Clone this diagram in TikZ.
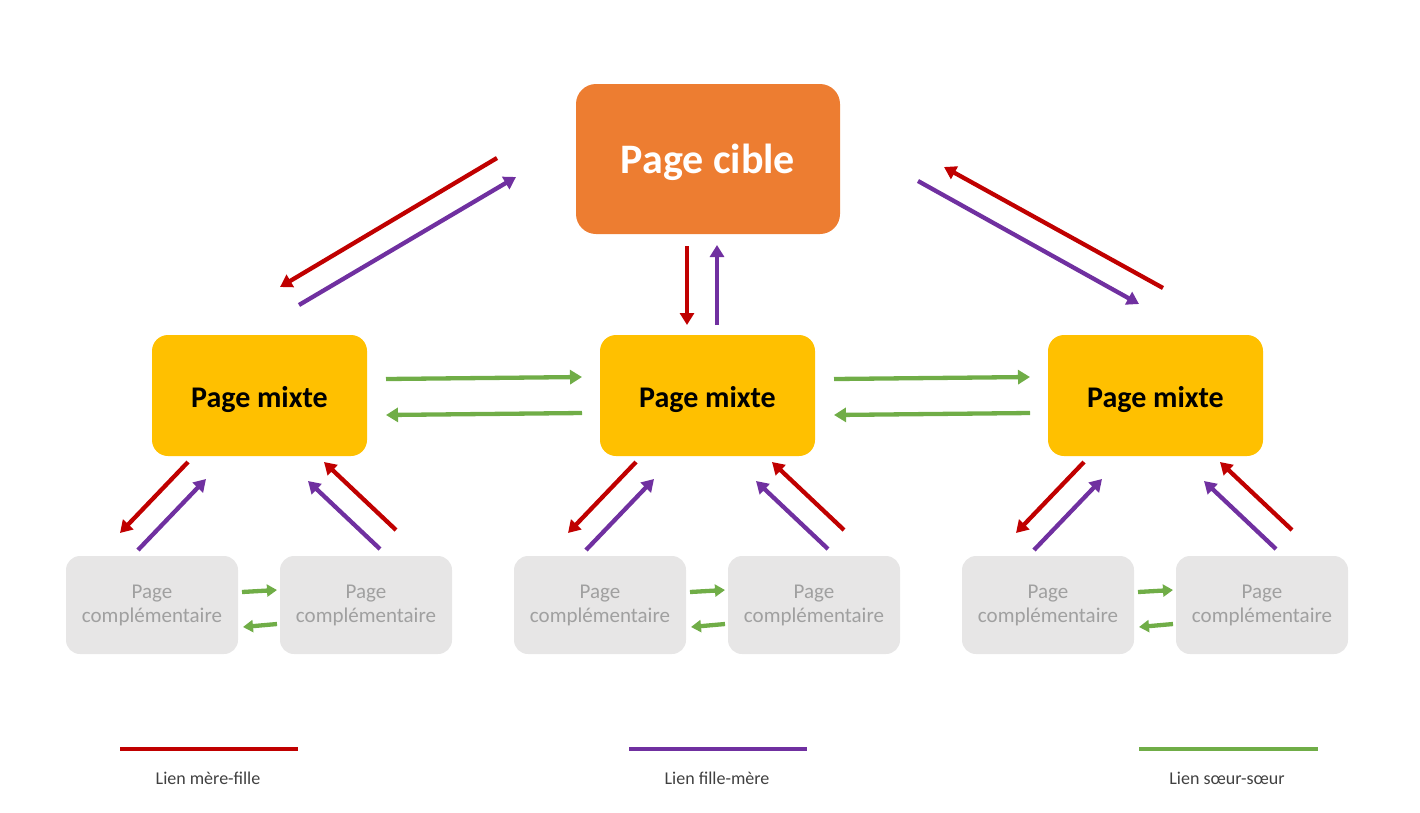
\documentclass[tikz,border=0pt]{standalone}
\usepackage{fontspec}
\setmainfont{Carlito}
\usetikzlibrary{arrows.meta}
\definecolor{corange}{HTML}{ED7D31}
\definecolor{cyellow}{HTML}{FFC000}
\definecolor{cgray}{HTML}{E7E6E6}
\definecolor{ctext}{HTML}{A0A0A0}
\definecolor{cred}{HTML}{C00000}
\definecolor{cpurple}{HTML}{7030A0}
\definecolor{cgreen}{HTML}{70AD47}
\definecolor{clegend}{HTML}{404040}
\tikzset{
  cible/.style={fill=corange, rounded corners=20pt, minimum width=264pt, minimum height=150pt, text=white, font=\fontsize{42}{48}\selectfont\bfseries, inner sep=0pt, text height=30pt, text depth=1.5pt},
  mixte/.style={fill=cyellow, rounded corners=16pt, minimum width=215pt, minimum height=121pt, text=black, font=\fontsize{30}{36}\selectfont\bfseries, inner sep=0pt, text height=24pt, text depth=1pt},
  compl/.style={fill=cgray, rounded corners=14pt, minimum width=172pt, minimum height=98pt, text=ctext, font=\fontsize{21}{24}\selectfont, align=center, inner sep=0pt},
  lnk/.style={line width=4.3pt, -{Triangle[length=12pt,width=14pt]}},
  mf/.style={lnk, cred},
  fm/.style={lnk, cpurple},
  ss/.style={lnk, cgreen},
  smallss/.style={line width=4.3pt, cgreen, -{Triangle[length=10pt,width=12pt]}},
  legline/.style={line width=4.3pt},
  legtext/.style={text=clegend, font=\fontsize{18}{22}\selectfont}
}
\begin{document}
\begin{tikzpicture}[x=1pt,y=-1pt]
\useasboundingbox (0,0) rectangle (1420,812);
% main nodes
\node[cible] (cible) at (708,159) {Page cible};
\node[mixte] (m1) at (259.5,395.5) {Page mixte};
\node[mixte] (m2) at (707.5,395.5) {Page mixte};
\node[mixte] (m3) at (1155.5,395.5) {Page mixte};
% complementary pages
\foreach \g/\dx in {1/0,2/448,3/896}{
  \node[compl] (c\g a) at (152+\dx,605) {Page\\compl\'ementaire};
  \node[compl] (c\g b) at (366+\dx,605) {Page\\compl\'ementaire};
}
% top arrows
\coordinate (tl1) at (497,158); \coordinate (tl2) at (280,287);
\coordinate (tl3) at (299,305); \coordinate (tl4) at (516,177);
\draw[mf] (tl1) -- (tl2);
\draw[fm] (tl3) -- (tl4);
\coordinate (tr1) at (1163,288); \coordinate (tr2) at (944,167);
\coordinate (tr3) at (918,181); \coordinate (tr4) at (1139,304);
\draw[mf] (tr1) -- (tr2);
\draw[fm] (tr3) -- (tr4);
\coordinate (tv1) at (687,246); \coordinate (tv2) at (687,325);
\coordinate (tv3) at (717,325); \coordinate (tv4) at (717,245);
\draw[mf] (tv1) -- (tv2);
\draw[fm] (tv3) -- (tv4);
% green horizontal arrows between mixed pages
\coordinate (g1) at (386,379); \coordinate (g2) at (582,377);
\coordinate (g3) at (582,413); \coordinate (g4) at (386,415);
\draw[ss] (g1) -- (g2);
\draw[ss] (g3) -- (g4);
\coordinate (g5) at (834,379); \coordinate (g6) at (1030,377);
\coordinate (g7) at (1030,413); \coordinate (g8) at (834,415);
\draw[ss] (g5) -- (g6);
\draw[ss] (g7) -- (g8);
% lower arrows
\foreach \g/\dx in {1/0,2/448,3/896}{
  \coordinate (r\g a) at (188+\dx,462); \coordinate (r\g b) at (120+\dx,533);
  \coordinate (p\g a) at (138+\dx,550); \coordinate (p\g b) at (206+\dx,479);
  \coordinate (r\g c) at (396+\dx,530); \coordinate (r\g d) at (324+\dx,462);
  \coordinate (p\g c) at (380+\dx,549); \coordinate (p\g d) at (308+\dx,481);
  \draw[mf] (r\g a) -- (r\g b);
  \draw[fm] (p\g a) -- (p\g b);
  \draw[mf] (r\g c) -- (r\g d);
  \draw[fm] (p\g c) -- (p\g d);
  \coordinate (s\g a) at (242+\dx,592); \coordinate (s\g b) at (277+\dx,590);
  \coordinate (s\g c) at (277+\dx,624); \coordinate (s\g d) at (243+\dx,627);
  \draw[smallss] (s\g a) -- (s\g b);
  \draw[smallss] (s\g c) -- (s\g d);
}
% legend
\coordinate (la1) at (120,749); \coordinate (la2) at (298,749);
\coordinate (lb1) at (629,749); \coordinate (lb2) at (807,749);
\coordinate (lc1) at (1139,749); \coordinate (lc2) at (1318,749);
\draw[legline, cred] (la1) -- (la2);
\draw[legline, cpurple] (lb1) -- (lb2);
\draw[legline, cgreen] (lc1) -- (lc2);
\node[legtext] (lta) at (208,778) {Lien mère-fille};
\node[legtext] (ltb) at (717,778) {Lien fille-mère};
\node[legtext] (ltc) at (1227,778) {Lien sœur-sœur};
\end{tikzpicture}
\end{document}
